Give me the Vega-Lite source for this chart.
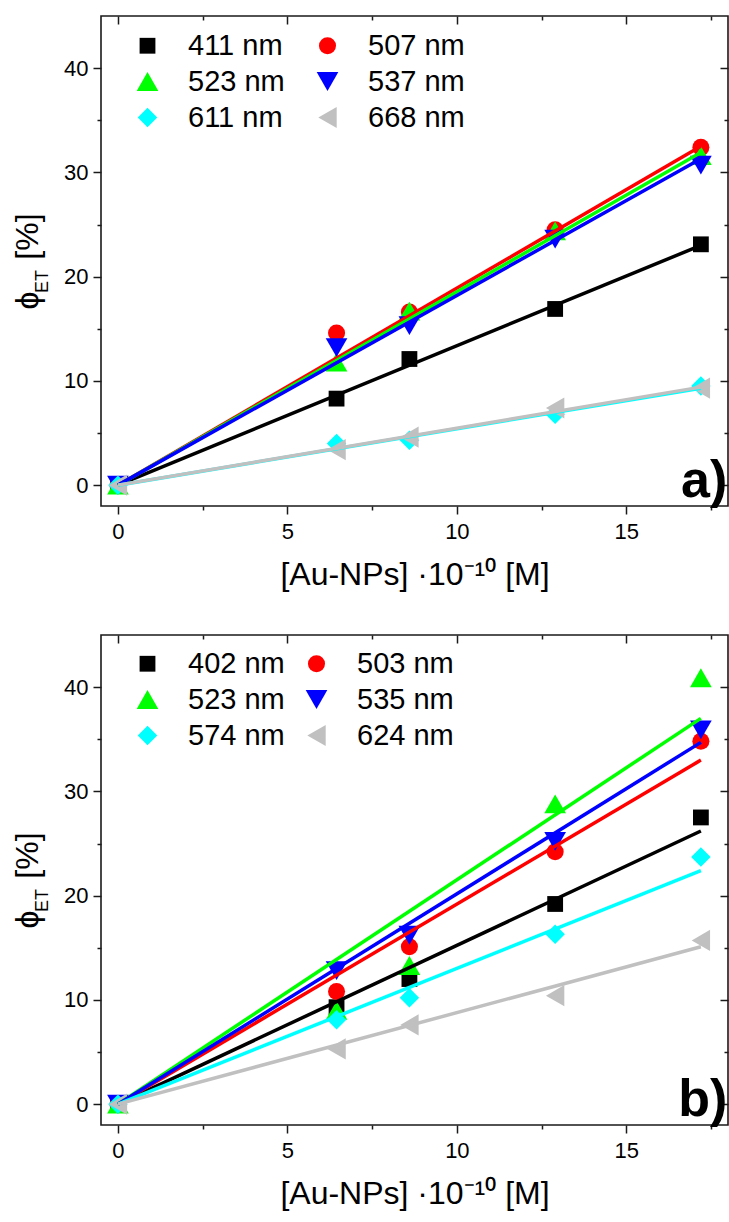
{
  "$schema": "https://vega.github.io/schema/vega-lite/v6.json",
  "background": "white",
  "padding": {"left": 10, "top": 14, "right": 2, "bottom": 5},
  "spacing": 42,
  "config": {
    "font": "Liberation Sans",
    "view": {"stroke": "#1a1a1a", "strokeWidth": 1.6},
    "axis": {"grid": false, "domain": false, "tickColor": "#1a1a1a", "tickWidth": 1.5, "labelColor": "black", "titleColor": "black", "labelFont": "Liberation Sans", "titleFont": "Liberation Sans", "titleFontWeight": "normal"}
  },
  "datasets": {
    "pa": [
      {"series": "411 nm", "x": 0, "y": 0}, {"series": "411 nm", "x": 6.45, "y": 8.3}, {"series": "411 nm", "x": 8.6, "y": 12.1}, {"series": "411 nm", "x": 12.9, "y": 16.9}, {"series": "411 nm", "x": 17.2, "y": 23.1},
      {"series": "507 nm", "x": 0, "y": 0}, {"series": "507 nm", "x": 6.45, "y": 14.6}, {"series": "507 nm", "x": 8.6, "y": 16.6}, {"series": "507 nm", "x": 12.9, "y": 24.5}, {"series": "507 nm", "x": 17.2, "y": 32.4},
      {"series": "523 nm", "x": 0, "y": 0}, {"series": "523 nm", "x": 6.45, "y": 11.8}, {"series": "523 nm", "x": 8.6, "y": 16.7}, {"series": "523 nm", "x": 12.9, "y": 24.4}, {"series": "523 nm", "x": 17.2, "y": 31.6},
      {"series": "537 nm", "x": 0, "y": 0}, {"series": "537 nm", "x": 6.45, "y": 13.2}, {"series": "537 nm", "x": 8.6, "y": 15.3}, {"series": "537 nm", "x": 12.9, "y": 23.6}, {"series": "537 nm", "x": 17.2, "y": 30.7},
      {"series": "611 nm", "x": 0, "y": 0}, {"series": "611 nm", "x": 6.45, "y": 4.0}, {"series": "611 nm", "x": 8.6, "y": 4.3}, {"series": "611 nm", "x": 12.9, "y": 6.8}, {"series": "611 nm", "x": 17.2, "y": 9.5},
      {"series": "668 nm", "x": 0, "y": 0}, {"series": "668 nm", "x": 6.45, "y": 3.4}, {"series": "668 nm", "x": 8.6, "y": 4.6}, {"series": "668 nm", "x": 12.9, "y": 7.4}, {"series": "668 nm", "x": 17.2, "y": 9.3}
    ],
    "fa": [
      {"series": "411 nm", "x": 0, "y": 0}, {"series": "411 nm", "x": 17.2, "y": 23.0},
      {"series": "507 nm", "x": 0, "y": 0}, {"series": "507 nm", "x": 17.2, "y": 32.5},
      {"series": "523 nm", "x": 0, "y": 0}, {"series": "523 nm", "x": 17.2, "y": 31.9},
      {"series": "537 nm", "x": 0, "y": 0}, {"series": "537 nm", "x": 17.2, "y": 31.3},
      {"series": "611 nm", "x": 0, "y": 0}, {"series": "611 nm", "x": 17.2, "y": 9.3},
      {"series": "668 nm", "x": 0, "y": 0}, {"series": "668 nm", "x": 17.2, "y": 9.4}
    ],
    "pb": [
      {"series": "402 nm", "x": 0, "y": 0}, {"series": "402 nm", "x": 6.45, "y": 9.3}, {"series": "402 nm", "x": 8.6, "y": 12.0}, {"series": "402 nm", "x": 12.9, "y": 19.2}, {"series": "402 nm", "x": 17.2, "y": 27.5},
      {"series": "503 nm", "x": 0, "y": 0}, {"series": "503 nm", "x": 6.45, "y": 10.8}, {"series": "503 nm", "x": 8.6, "y": 15.1}, {"series": "503 nm", "x": 12.9, "y": 24.2}, {"series": "503 nm", "x": 17.2, "y": 34.8},
      {"series": "523 nm", "x": 0, "y": 0}, {"series": "523 nm", "x": 6.45, "y": 9.0}, {"series": "523 nm", "x": 8.6, "y": 13.3}, {"series": "523 nm", "x": 12.9, "y": 28.8}, {"series": "523 nm", "x": 17.2, "y": 40.9},
      {"series": "535 nm", "x": 0, "y": 0}, {"series": "535 nm", "x": 6.45, "y": 12.8}, {"series": "535 nm", "x": 8.6, "y": 16.2}, {"series": "535 nm", "x": 12.9, "y": 25.2}, {"series": "535 nm", "x": 17.2, "y": 35.9},
      {"series": "574 nm", "x": 0, "y": 0}, {"series": "574 nm", "x": 6.45, "y": 8.1}, {"series": "574 nm", "x": 8.6, "y": 10.2}, {"series": "574 nm", "x": 12.9, "y": 16.3}, {"series": "574 nm", "x": 17.2, "y": 23.7},
      {"series": "624 nm", "x": 0, "y": 0}, {"series": "624 nm", "x": 6.45, "y": 5.3}, {"series": "624 nm", "x": 8.6, "y": 7.6}, {"series": "624 nm", "x": 12.9, "y": 10.4}, {"series": "624 nm", "x": 17.2, "y": 15.7}
    ],
    "fb": [
      {"series": "402 nm", "x": 0, "y": 0}, {"series": "402 nm", "x": 17.2, "y": 26.2},
      {"series": "503 nm", "x": 0, "y": 0}, {"series": "503 nm", "x": 17.2, "y": 33.0},
      {"series": "523 nm", "x": 0, "y": 0}, {"series": "523 nm", "x": 17.2, "y": 37.0},
      {"series": "535 nm", "x": 0, "y": 0}, {"series": "535 nm", "x": 17.2, "y": 34.7},
      {"series": "574 nm", "x": 0, "y": 0}, {"series": "574 nm", "x": 17.2, "y": 22.4},
      {"series": "624 nm", "x": 0, "y": 0}, {"series": "624 nm", "x": 17.2, "y": 15.1}
    ]
  },
  "vconcat": [
    {
      "width": 627, "height": 490,
      "layer": [
        {
          "data": {"name": "pa"},
          "mark": {"type": "point", "filled": true, "opacity": 1, "strokeWidth": 0},
          "encoding": {
            "x": {"field": "x", "type": "quantitative", "scale": {"domain": [-0.5, 18], "nice": false, "zero": false},
              "axis": {"orient": "bottom", "values": [0, 2.5, 5, 7.5, 10, 12.5, 15, 17.5], "labelExpr": "datum.value % 5 === 0 ? datum.label : ''", "tickSize": {"condition": {"test": "datum.value % 5 === 0", "value": 8}, "value": 4}, "labelPadding": 7, "labelFontSize": 22, "title": "[Au-NPs] ·10⁻¹⁰ [M]", "titleFontSize": 32, "titlePadding": 17}},
            "y": {"field": "y", "type": "quantitative", "scale": {"domain": [-2, 45], "nice": false, "zero": false},
              "axis": {"orient": "left", "values": [0, 5, 10, 15, 20, 25, 30, 35, 40], "labelExpr": "datum.value % 10 === 0 ? datum.label : ''", "tickSize": {"condition": {"test": "datum.value % 10 === 0", "value": 8}, "value": 4}, "labelPadding": 5, "labelFontSize": 22, "title": "ϕ\u2003[%]", "titleFontSize": 32, "titlePadding": 19}},
            "size": {"field": "series", "type": "ordinal", "scale": {"type": "ordinal", "domain": ["411 nm", "507 nm", "523 nm", "537 nm", "611 nm", "668 nm"], "range": [250, 290, 470, 470, 380, 450]}, "legend": null},
            "color": {"field": "series", "type": "nominal", "scale": {"domain": ["411 nm", "507 nm", "523 nm", "537 nm", "611 nm", "668 nm"], "range": ["#000000", "#ff0000", "#00ff00", "#0000ff", "#00ffff", "#c0c0c0"]},
              "legend": {"title": null, "orient": "none", "legendX": 32, "legendY": 15, "columns": 2, "direction": "horizontal", "columnPadding": 28, "rowPadding": 6, "labelOffset": 26, "labelFontSize": 29, "labelFont": "Liberation Sans", "symbolSize": 300, "symbolStrokeWidth": 0, "padding": 0, "labelLimit": 300}},
            "shape": {"field": "series", "type": "nominal", "scale": {"domain": ["411 nm", "507 nm", "523 nm", "537 nm", "611 nm", "668 nm"], "range": ["square", "circle", "triangle-up", "triangle-down", "diamond", "triangle-left"]},
              "legend": {"title": null, "orient": "none", "legendX": 32, "legendY": 15, "columns": 2, "direction": "horizontal", "columnPadding": 28, "rowPadding": 6, "labelOffset": 26, "labelFontSize": 29, "labelFont": "Liberation Sans", "symbolSize": 300, "symbolStrokeWidth": 0, "padding": 0, "labelLimit": 300}}
          }
        },
        {
          "data": {"name": "fa"},
          "mark": {"type": "line", "strokeWidth": 3.5},
          "encoding": {
            "x": {"field": "x", "type": "quantitative", "scale": {"domain": [-0.5, 18], "nice": false, "zero": false},
              "axis": {"orient": "top", "values": [0, 2.5, 5, 7.5, 10, 12.5, 15, 17.5], "labels": false, "tickSize": {"condition": {"test": "datum.value % 5 === 0", "value": -8}, "value": -4}, "title": null}},
            "y": {"field": "y", "type": "quantitative", "scale": {"domain": [-2, 45], "nice": false, "zero": false},
              "axis": {"orient": "right", "values": [0, 5, 10, 15, 20, 25, 30, 35, 40], "labels": false, "tickSize": {"condition": {"test": "datum.value % 10 === 0", "value": -8}, "value": -4}, "title": "ET", "titleFontSize": 18, "titleAngle": 270, "titleX": -686, "titleY": 265, "titleAlign": "center", "titleBaseline": "middle"}},
            "color": {"field": "series", "type": "nominal", "legend": null}
          }
        },
        {
          "data": {"values": [{"tag": "a)"}]},
          "mark": {"type": "text", "fontSize": 52, "fontWeight": "bold", "align": "right", "baseline": "alphabetic", "color": "black"},
          "encoding": {
            "x": {"datum": 17.98, "type": "quantitative", "axis": null},
            "y": {"datum": -1.1, "type": "quantitative", "axis": null},
            "text": {"field": "tag"}
          }
        }
      ],
      "resolve": {"axis": {"x": "independent", "y": "independent"}}
    },
    {
      "width": 627, "height": 490,
      "layer": [
        {
          "data": {"name": "pb"},
          "mark": {"type": "point", "filled": true, "opacity": 1, "strokeWidth": 0},
          "encoding": {
            "x": {"field": "x", "type": "quantitative", "scale": {"domain": [-0.5, 18], "nice": false, "zero": false},
              "axis": {"orient": "bottom", "values": [0, 2.5, 5, 7.5, 10, 12.5, 15, 17.5], "labelExpr": "datum.value % 5 === 0 ? datum.label : ''", "tickSize": {"condition": {"test": "datum.value % 5 === 0", "value": 8}, "value": 4}, "labelPadding": 7, "labelFontSize": 22, "title": "[Au-NPs] ·10⁻¹⁰ [M]", "titleFontSize": 32, "titlePadding": 17}},
            "y": {"field": "y", "type": "quantitative", "scale": {"domain": [-2, 45], "nice": false, "zero": false},
              "axis": {"orient": "left", "values": [0, 5, 10, 15, 20, 25, 30, 35, 40], "labelExpr": "datum.value % 10 === 0 ? datum.label : ''", "tickSize": {"condition": {"test": "datum.value % 10 === 0", "value": 8}, "value": 4}, "labelPadding": 5, "labelFontSize": 22, "title": "ϕ\u2003[%]", "titleFontSize": 32, "titlePadding": 19}},
            "size": {"field": "series", "type": "ordinal", "scale": {"type": "ordinal", "domain": ["402 nm", "503 nm", "523 nm", "535 nm", "574 nm", "624 nm"], "range": [250, 290, 470, 470, 380, 450]}, "legend": null},
            "color": {"field": "series", "type": "nominal", "scale": {"domain": ["402 nm", "503 nm", "523 nm", "535 nm", "574 nm", "624 nm"], "range": ["#000000", "#ff0000", "#00ff00", "#0000ff", "#00ffff", "#c0c0c0"]},
              "legend": {"title": null, "orient": "none", "legendX": 32, "legendY": 14, "columns": 2, "direction": "horizontal", "columnPadding": 17, "rowPadding": 6, "labelOffset": 26, "labelFontSize": 29, "labelFont": "Liberation Sans", "symbolSize": 300, "symbolStrokeWidth": 0, "padding": 0, "labelLimit": 300}},
            "shape": {"field": "series", "type": "nominal", "scale": {"domain": ["402 nm", "503 nm", "523 nm", "535 nm", "574 nm", "624 nm"], "range": ["square", "circle", "triangle-up", "triangle-down", "diamond", "triangle-left"]},
              "legend": {"title": null, "orient": "none", "legendX": 32, "legendY": 14, "columns": 2, "direction": "horizontal", "columnPadding": 17, "rowPadding": 6, "labelOffset": 26, "labelFontSize": 29, "labelFont": "Liberation Sans", "symbolSize": 300, "symbolStrokeWidth": 0, "padding": 0, "labelLimit": 300}}
          }
        },
        {
          "data": {"name": "fb"},
          "mark": {"type": "line", "strokeWidth": 3.5},
          "encoding": {
            "x": {"field": "x", "type": "quantitative", "scale": {"domain": [-0.5, 18], "nice": false, "zero": false},
              "axis": {"orient": "top", "values": [0, 2.5, 5, 7.5, 10, 12.5, 15, 17.5], "labels": false, "tickSize": {"condition": {"test": "datum.value % 5 === 0", "value": -8}, "value": -4}, "title": null}},
            "y": {"field": "y", "type": "quantitative", "scale": {"domain": [-2, 45], "nice": false, "zero": false},
              "axis": {"orient": "right", "values": [0, 5, 10, 15, 20, 25, 30, 35, 40], "labels": false, "tickSize": {"condition": {"test": "datum.value % 10 === 0", "value": -8}, "value": -4}, "title": "ET", "titleFontSize": 18, "titleAngle": 270, "titleX": -686, "titleY": 265, "titleAlign": "center", "titleBaseline": "middle"}},
            "color": {"field": "series", "type": "nominal", "legend": null}
          }
        },
        {
          "data": {"values": [{"tag": "b)"}]},
          "mark": {"type": "text", "fontSize": 52, "fontWeight": "bold", "align": "right", "baseline": "alphabetic", "color": "black"},
          "encoding": {
            "x": {"datum": 17.98, "type": "quantitative", "axis": null},
            "y": {"datum": -1.1, "type": "quantitative", "axis": null},
            "text": {"field": "tag"}
          }
        }
      ],
      "resolve": {"axis": {"x": "independent", "y": "independent"}}
    }
  ],
  "resolve": {"scale": {"color": "independent", "shape": "independent", "size": "independent"}}
}
